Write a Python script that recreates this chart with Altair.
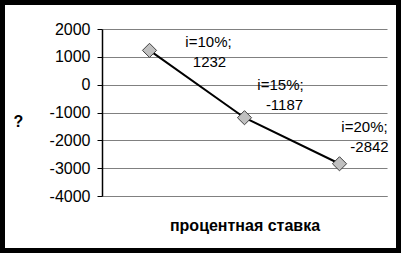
import altair as alt
import pandas as pd

rates = ["i=10%", "i=15%", "i=20%"]
values = [1232, -1187, -2842]
line1 = ["i=10%;", "i=15%;", "i=20%;"]
line2 = ["1232", "-1187", "-2842"]
y_ticks = [2000, 1000, 0, -1000, -2000, -3000, -4000]

df = pd.DataFrame({"rate": rates, "value": values, "l1": line1, "l2": line2})

# label offsets (styling), per point: (dx1, dy1, dx2, dy2)
offsets = [(59, -8.5, 60, 11.5), (36, -32.7, 40, -12.7), (25, -37, 30, -17)]

FONT = "Liberation Sans"
W, H = 285, 167
PL, PT, PR, PB = 102, 29, 14, 57

x_enc = alt.X("rate:N", sort=rates,
              scale=alt.Scale(type="point", padding=0.5),
              axis=alt.Axis(labels=False, ticks=False, domain=True, domainColor="#808080",
                            title="процентная ставка", titleFont=FONT, titleFontSize=16,
                            titleFontWeight="bold", titleColor="black",
                            titleY=29, titleBaseline="middle"))
y_enc = alt.Y("value:Q", scale=alt.Scale(domain=[-4000, 2000], nice=False, zero=False),
              axis=alt.Axis(values=y_ticks, grid=True, gridColor="#808080", gridWidth=1,
                            domainColor="black", domainWidth=1.5, tickColor="black", tickSize=5,
                            labelExpr="'' + datum.value",
                            labelFont=FONT, labelFontSize=16, labelColor="black", labelPadding=7,
                            title="?", titleFont=FONT, titleFontSize=16, titleFontWeight="bold",
                            titleAngle=0, titleX=-84, titleY=92, titleAlign="center",
                            titleBaseline="middle", titleColor="black"))

border = alt.Chart(alt.Data(values=[{"a": 1}])).mark_rect(
    fill="transparent", stroke="black", strokeWidth=5
).encode(
    x=alt.value(-PL + 2.5), x2=alt.value(W + PR - 2.5),
    y=alt.value(-PT + 2.5), y2=alt.value(H + PB - 2.5),
)

base = alt.Chart(df)
line = base.mark_line(color="black", strokeWidth=2).encode(x=x_enc, y=y_enc)
pts = base.mark_point(shape="diamond", filled=True, fill="#c0c0c0", stroke="#404040",
                      strokeWidth=1, size=200, opacity=1).encode(x=x_enc, y=y_enc)

layers = [border, line, pts]
for r, (dx1, dy1, dx2, dy2) in zip(rates, offsets):
    sub = base.transform_filter(alt.datum.rate == r)
    layers.append(sub.mark_text(font=FONT, fontSize=15, color="black", align="center",
                                baseline="middle", dx=dx1, dy=dy1)
                  .encode(x=x_enc, y=y_enc, text="l1:N"))
    layers.append(sub.mark_text(font=FONT, fontSize=15, color="black", align="center",
                                baseline="middle", dx=dx2, dy=dy2)
                  .encode(x=x_enc, y=y_enc, text="l2:N"))

chart = alt.layer(*layers).properties(
    width=W, height=H,
    autosize=alt.AutoSizeParams(type="none"),
    padding={"left": PL, "top": PT, "right": PR, "bottom": PB},
    background="white",
).configure_view(stroke=None)

chart.save("out.html", embed_options={"renderer": "svg", "actions": False})
